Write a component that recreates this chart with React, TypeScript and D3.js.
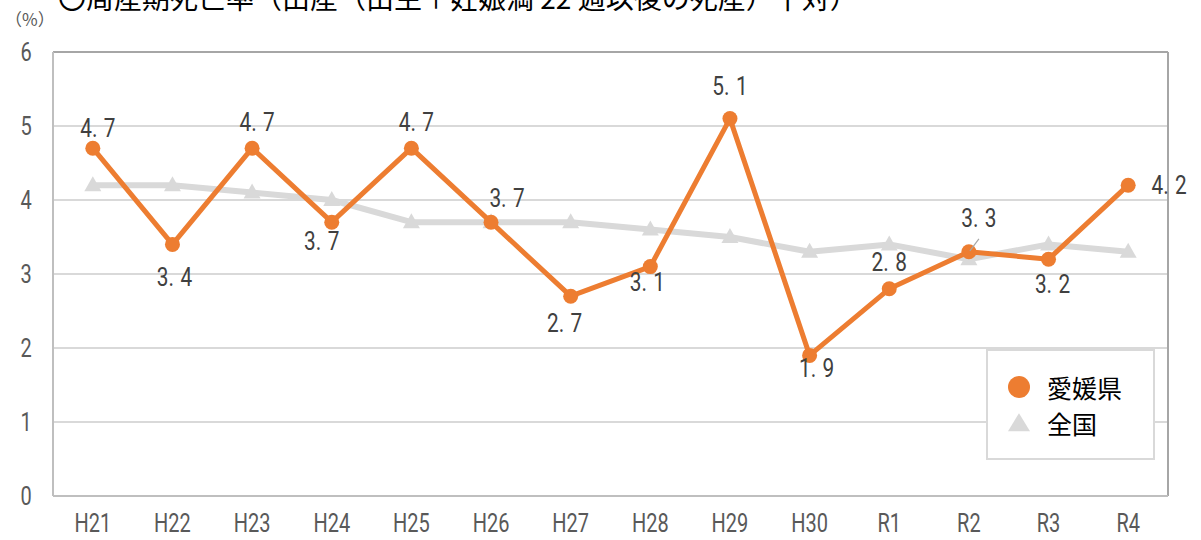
import React from "react";
import * as d3 from "d3";

const categories = ["H21", "H22", "H23", "H24", "H25", "H26", "H27", "H28", "H29", "H30", "R1", "R2", "R3", "R4"];
const ehimeValues = [4.7, 3.4, 4.7, 3.7, 4.7, 3.7, 2.7, 3.1, 5.1, 1.9, 2.8, 3.3, 3.2, 4.2];
const nationalValues = [4.2, 4.2, 4.1, 4.0, 3.7, 3.7, 3.7, 3.6, 3.5, 3.3, 3.4, 3.2, 3.4, 3.3];
const yTicks = [0, 1, 2, 3, 4, 5, 6];
const seriesNames = ["愛媛県", "全国"];
const titleText = "〇周産期死亡率（出産（出生＋妊娠満 22 週以後の死産）千対）";
const unitText = "（%）";

// label offsets (layout only)
const labelOffsets: [number, number][] = [
  [5, -20], [2, 33], [5, -26], [-10, 19], [5, -26], [16, -24], [-6, 27],
  [-3, 16], [0, -32], [7, 13], [0, -27], [10, -34], [4, 25], [41, 0],
];

const W = 1201;
const H = 540;
const M = { left: 53, right: 1168, top: 52, bottom: 496 };
const ORANGE = "#ED7D31";
const GRAY = "#D9D9D9";
const TXT = "#404040";

export default function App() {
  const x = d3.scaleBand<string>().domain(categories).range([M.left, M.right]);
  const cx = (c: string) => (x(c) ?? 0) + x.bandwidth() / 2;
  const y = d3.scaleLinear().domain([0, 6]).range([M.bottom, M.top]);

  const line = d3
    .line<number>()
    .x((_, i) => cx(categories[i]))
    .y((d) => y(d));

  const tri = (px: number, py: number, w: number, h: number) =>
    `M${px},${py - h * 0.6}L${px + w / 2},${py + h * 0.4}L${px - w / 2},${py + h * 0.4}Z`;

  const labelFont = "Roboto, 'Noto Sans', sans-serif";

  const renderLabel = (v: number, px: number, py: number, key: string) => {
    const s = v.toFixed(1);
    const [a, b] = s.split(".");
    return (
      <g key={key} transform={`translate(${px},${py}) scale(0.8,1)`}>
        <text
          textAnchor="middle"
          dominantBaseline="central"
          fontFamily={labelFont}
          fontSize={26}
          fill={TXT}
        >
          {a}.<tspan dx={8}>{b}</tspan>
        </text>
      </g>
    );
  };

  return (
    <svg
      width={W}
      height={H}
      style={{ position: "absolute", left: 0, top: 0, background: "#fff" }}
      xmlns="http://www.w3.org/2000/svg"
    >
      <rect x={0} y={0} width={W} height={H} fill="#fff" />
      {/* title (clipped at top edge as in the reference) */}
      <text x={58} y={9} fontFamily="'Noto Sans CJK JP', sans-serif" fontSize={28} fill="#000">
        {titleText}
      </text>
      <text x={5} y={26} fontFamily="'Noto Sans CJK JP', sans-serif" fontSize={17} fill="#595959">
        {unitText}
      </text>

      {/* gridlines */}
      {yTicks
        .filter((t) => t > 0 && t < 6)
        .map((t) => (
          <line key={`g${t}`} x1={M.left} x2={M.right} y1={y(t)} y2={y(t)} stroke={GRAY} strokeWidth={2} />
        ))}
      {/* frame */}
      <line x1={M.left} x2={M.right} y1={M.top} y2={M.top} stroke="#A6A6A6" strokeWidth={2} />
      <line x1={M.right} x2={M.right} y1={M.top} y2={M.bottom} stroke="#A6A6A6" strokeWidth={2} />
      <line x1={M.left} x2={M.left} y1={M.top} y2={M.bottom} stroke="#BFBFBF" strokeWidth={2} />
      <line x1={M.left} x2={M.right} y1={M.bottom} y2={M.bottom} stroke="#BFBFBF" strokeWidth={2} />

      {/* y ticks */}
      {yTicks.map((t) => (
        <g key={`yt${t}`} transform={`translate(26,${y(t) + 1}) scale(0.8,1)`}>
          <text textAnchor="middle" dominantBaseline="central" fontFamily={labelFont} fontSize={25} fill="#595959">
            {t}
          </text>
        </g>
      ))}
      {/* x ticks */}
      {categories.map((c) => (
        <g key={`xt${c}`} transform={`translate(${cx(c)},${524}) scale(0.8,1)`}>
          <text textAnchor="middle" dominantBaseline="central" fontFamily={labelFont} fontSize={25} fill="#595959">
            {c}
          </text>
        </g>
      ))}

      {/* national series */}
      <path d={line(nationalValues) ?? ""} fill="none" stroke={GRAY} strokeWidth={6} strokeLinejoin="round" />
      {nationalValues.map((v, i) => (
        <path key={`nm${i}`} d={tri(cx(categories[i]), y(v), 17, 15)} fill={GRAY} />
      ))}

      {/* ehime series */}
      <path d={line(ehimeValues) ?? ""} fill="none" stroke={ORANGE} strokeWidth={5} strokeLinejoin="round" />
      {ehimeValues.map((v, i) => (
        <circle key={`em${i}`} cx={cx(categories[i])} cy={y(v)} r={7.5} fill={ORANGE} />
      ))}

      {/* leader line for R2 */}
      <line
        x1={cx(categories[11]) + 10}
        y1={y(ehimeValues[11]) - 13}
        x2={cx(categories[11]) + 1}
        y2={y(ehimeValues[11]) - 1}
        stroke="#A6A6A6"
        strokeWidth={1.2}
      />

      {/* data labels */}
      {ehimeValues.map((v, i) =>
        renderLabel(v, cx(categories[i]) + labelOffsets[i][0], y(v) + labelOffsets[i][1], `lb${i}`)
      )}

      {/* legend */}
      <rect x={987} y={350} width={167} height={109} fill="#fff" stroke={GRAY} strokeWidth={2} />
      <circle cx={1019} cy={387} r={11} fill={ORANGE} />
      <text x={1047} y={387} dominantBaseline="central" fontFamily="'Noto Sans CJK JP', sans-serif" fontSize={25} fill="#000">
        {seriesNames[0]}
      </text>
      <path d={tri(1019, 424, 22, 18)} fill={GRAY} />
      <text x={1047} y={423} dominantBaseline="central" fontFamily="'Noto Sans CJK JP', sans-serif" fontSize={25} fill="#000">
        {seriesNames[1]}
      </text>
    </svg>
  );
}
